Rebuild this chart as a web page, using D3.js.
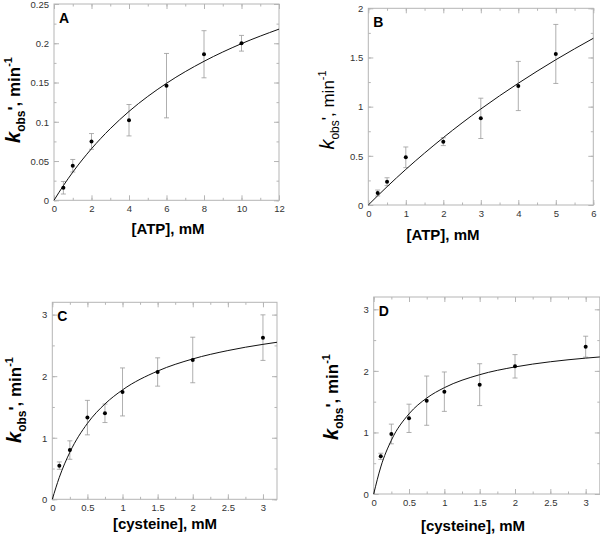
<!DOCTYPE html>
<html>
<head>
<meta charset="utf-8">
<script src="https://cdn.jsdelivr.net/npm/d3@7"></script>
<style>
body { margin: 0; background: #fff; }
svg { font-family: "Liberation Sans", Arial, sans-serif; }
.tick text { fill: #333; font-size: 9.5px; }
</style>
</head>
<body>
<div id="chart"></div>
<script>
// panel A - ATP
var atpA = [0.5, 1, 2, 4, 6, 8, 10];
var kobsA = [0.016, 0.044, 0.075, 0.102, 0.146, 0.186, 0.200];
var errA = [0.008, 0.008, 0.010, 0.020, 0.041, 0.030, 0.010];
var fitXA = [0, 0.5, 1, 2, 3, 4, 6, 8, 10, 12];
var fitYA = [0, 0.0187, 0.0358, 0.0657, 0.0912, 0.1132, 0.149, 0.177, 0.1995, 0.218];

// panel B - ATP
var atpB = [0.25, 0.5, 1, 2, 3, 4, 5];
var kobsB = [0.122, 0.237, 0.485, 0.644, 0.881, 1.21, 1.536];
var errB = [0.03, 0.04, 0.105, 0.04, 0.205, 0.25, 0.30];
var fitXB = [0, 0.5, 1, 2, 3, 4, 5, 6];
var fitYB = [0, 0.186, 0.362, 0.685, 0.976, 1.238, 1.477, 1.695];

// panel C - cysteine
var cysC = [0.1, 0.25, 0.5, 0.75, 1, 1.5, 2, 3];
var kobsC = [0.547, 0.80, 1.327, 1.397, 1.744, 2.068, 2.263, 2.626];
var errC = [0.06, 0.15, 0.28, 0.15, 0.39, 0.23, 0.37, 0.37];
var fitXC = [0, 0.1, 0.25, 0.5, 0.75, 1, 1.5, 2, 2.5, 3, 3.2];
var fitYC = [0, 0.357, 0.764, 1.233, 1.549, 1.777, 2.083, 2.28, 2.416, 2.517, 2.551];

// panel D - cysteine
var cysD = [0.1, 0.25, 0.5, 0.75, 1, 1.5, 2, 3];
var kobsD = [0.612, 0.975, 1.229, 1.516, 1.662, 1.776, 2.074, 2.393];
var errD = [0.05, 0.16, 0.23, 0.40, 0.32, 0.34, 0.19, 0.17];
var fitXD = [0, 0.1, 0.25, 0.5, 0.75, 1, 1.5, 2, 2.5, 3, 3.2];
var fitYD = [0, 0.439, 0.873, 1.302, 1.558, 1.727, 1.938, 2.064, 2.148, 2.207, 2.226];

var panels = [
  {letter: "A", xs: atpA, ys: kobsA, es: errA, fx: fitXA, fy: fitYA,
   xDom: [0, 12], yDom: [0, 0.25], xMaj: 2, xMin: 1, yMaj: 0.05, yMin: 0.025,
   left: 54, right: 279, top: 4, bottom: 200.3, xTitle: "[ATP], mM", yBold: true,
   xtX: 168, xtY: 234, ytX: 20, ytY: 100},
  {letter: "B", xs: atpB, ys: kobsB, es: errB, fx: fitXB, fy: fitYB,
   xDom: [0, 6], yDom: [0, 2], xMaj: 1, xMin: 0.5, yMaj: 0.5, yMin: 0.25,
   left: 368.3, right: 593.3, top: 8.3, bottom: 205, xTitle: "[ATP], mM", yBold: false,
   xtX: 443, xtY: 240, ytX: 334, ytY: 110},
  {letter: "C", xs: cysC, ys: kobsC, es: errC, fx: fitXC, fy: fitYC,
   xDom: [0, 3.2], yDom: [0, 3.2], xMaj: 0.5, xMin: 0.25, yMaj: 1, yMin: 0.5,
   left: 52.3, right: 277, top: 302.3, bottom: 499.3, xTitle: "[cysteine], mM", yBold: true,
   xtX: 165, xtY: 529, ytX: 21, ytY: 400},
  {letter: "D", xs: cysD, ys: kobsD, es: errD, fx: fitXD, fy: fitYD,
   xDom: [0, 3.2], yDom: [0, 3.2], xMaj: 0.5, xMin: 0.25, yMaj: 1, yMin: 0.5,
   left: 373.7, right: 599.8, top: 297, bottom: 494, xTitle: "[cysteine], mM", yBold: true,
   xtX: 473, xtY: 531, ytX: 338, ytY: 397}
];

var svg = d3.select("#chart").append("svg")
  .attr("width", 600)
  .attr("height", 539);

function ticksBetween(dom, step) {
  var out = [];
  for (var i = 0; dom[0] + i * step <= dom[1] + 1e-9; i++) {
    out.push(+(dom[0] + i * step).toFixed(4));
  }
  return out;
}

var fmt = function(d) { return String(+d.toFixed(3)); };

panels.forEach(function(p) {
  var x = d3.scaleLinear().domain(p.xDom).range([p.left, p.right]);
  var y = d3.scaleLinear().domain(p.yDom).range([p.bottom, p.top]);

  var xMajT = ticksBetween(p.xDom, p.xMaj);
  var xMinT = ticksBetween(p.xDom, p.xMin);
  var yMajT = ticksBetween(p.yDom, p.yMaj);
  var yMinT = ticksBetween(p.yDom, p.yMin);

  var g = svg.append("g");

  // minor ticks, all four sides
  [[d3.axisBottom(x), p.bottom, "x"], [d3.axisTop(x), p.top, "x"],
   [d3.axisLeft(y), p.left, "y"], [d3.axisRight(y), p.right, "y"]].forEach(function(a) {
    var ax = a[0].tickValues(a[2] == "x" ? xMinT : yMinT).tickSize(-2.5).tickFormat("");
    g.append("g")
      .attr("transform", a[2] == "x" ? "translate(0," + a[1] + ")" : "translate(" + a[1] + ",0)")
      .call(ax)
      .call(function(s) { s.select(".domain").remove(); s.selectAll("line").attr("stroke", "#b5b5b5"); });
  });

  // major ticks with labels on bottom / left
  var xb = g.append("g")
    .attr("transform", "translate(0," + p.bottom + ")")
    .call(d3.axisBottom(x).tickValues(xMajT).tickSize(-5).tickPadding(5).tickFormat(fmt));
  var xt = g.append("g")
    .attr("transform", "translate(0," + p.top + ")")
    .call(d3.axisTop(x).tickValues(xMajT).tickSize(-5).tickFormat(""));
  var yl = g.append("g")
    .attr("transform", "translate(" + p.left + ",0)")
    .call(d3.axisLeft(y).tickValues(yMajT).tickSize(-5).tickPadding(5).tickFormat(fmt));
  var yr = g.append("g")
    .attr("transform", "translate(" + p.right + ",0)")
    .call(d3.axisRight(y).tickValues(yMajT).tickSize(-5).tickFormat(""));
  [xb, xt, yl, yr].forEach(function(s) {
    s.select(".domain").remove();
    s.selectAll("line").attr("stroke", "#b5b5b5");
  });
  yl.selectAll("text").attr("dy", "0.35em");

  // frame
  g.append("rect")
    .attr("x", p.left).attr("y", p.top)
    .attr("width", p.right - p.left).attr("height", p.bottom - p.top)
    .attr("fill", "none").attr("stroke", "#b5b5b5").attr("stroke-width", 1);

  var pts = p.xs.map(function(v, i) { return {x: v, y: p.ys[i], e: p.es[i]}; });

  // error bars
  var eb = g.selectAll(".err").data(pts).enter().append("g").attr("stroke", "#9a9a9a").attr("stroke-width", 0.8);
  eb.append("line")
    .attr("x1", function(d) { return x(d.x); }).attr("x2", function(d) { return x(d.x); })
    .attr("y1", function(d) { return y(d.y - d.e); }).attr("y2", function(d) { return y(d.y + d.e); });
  eb.append("line")
    .attr("x1", function(d) { return x(d.x) - 2.5; }).attr("x2", function(d) { return x(d.x) + 2.5; })
    .attr("y1", function(d) { return y(d.y + d.e); }).attr("y2", function(d) { return y(d.y + d.e); });
  eb.append("line")
    .attr("x1", function(d) { return x(d.x) - 2.5; }).attr("x2", function(d) { return x(d.x) + 2.5; })
    .attr("y1", function(d) { return y(d.y - d.e); }).attr("y2", function(d) { return y(d.y - d.e); });

  // fit curve
  var line = d3.line()
    .x(function(d) { return x(d[0]); })
    .y(function(d) { return y(d[1]); })
    .curve(d3.curveMonotoneX);
  g.append("path")
    .datum(p.fx.map(function(v, i) { return [v, p.fy[i]]; }))
    .attr("d", line)
    .attr("fill", "none").attr("stroke", "#111").attr("stroke-width", 1);

  // points
  g.selectAll(".pt").data(pts).enter().append("circle")
    .attr("cx", function(d) { return x(d.x); })
    .attr("cy", function(d) { return y(d.y); })
    .attr("r", 2)
    .attr("fill", "#000");

  // panel letter
  g.append("text")
    .attr("x", p.left + 5).attr("y", p.top + 19)
    .attr("font-size", 14).attr("font-weight", "bold")
    .text(p.letter);

  // x title
  g.append("text")
    .attr("x", p.xtX).attr("y", p.xtY)
    .attr("text-anchor", "middle")
    .attr("font-size", 15).attr("font-weight", "bold")
    .text(p.xTitle);

  // y title
  var yt = g.append("text")
    .attr("transform", "translate(" + p.ytX + "," + p.ytY + ") rotate(-90)")
    .attr("text-anchor", "middle")
    .attr("font-size", 17).attr("font-weight", p.yBold ? "bold" : "normal");
  yt.append("tspan").attr("font-style", "italic").attr("font-size", 20).text("k");
  yt.append("tspan").attr("font-size", 12).attr("dy", 5).text("obs");
  yt.append("tspan").attr("dy", -5).text("', min");
  yt.append("tspan").attr("font-size", 11).attr("dy", -8).text("-1");
});
</script>
</body>
</html>
